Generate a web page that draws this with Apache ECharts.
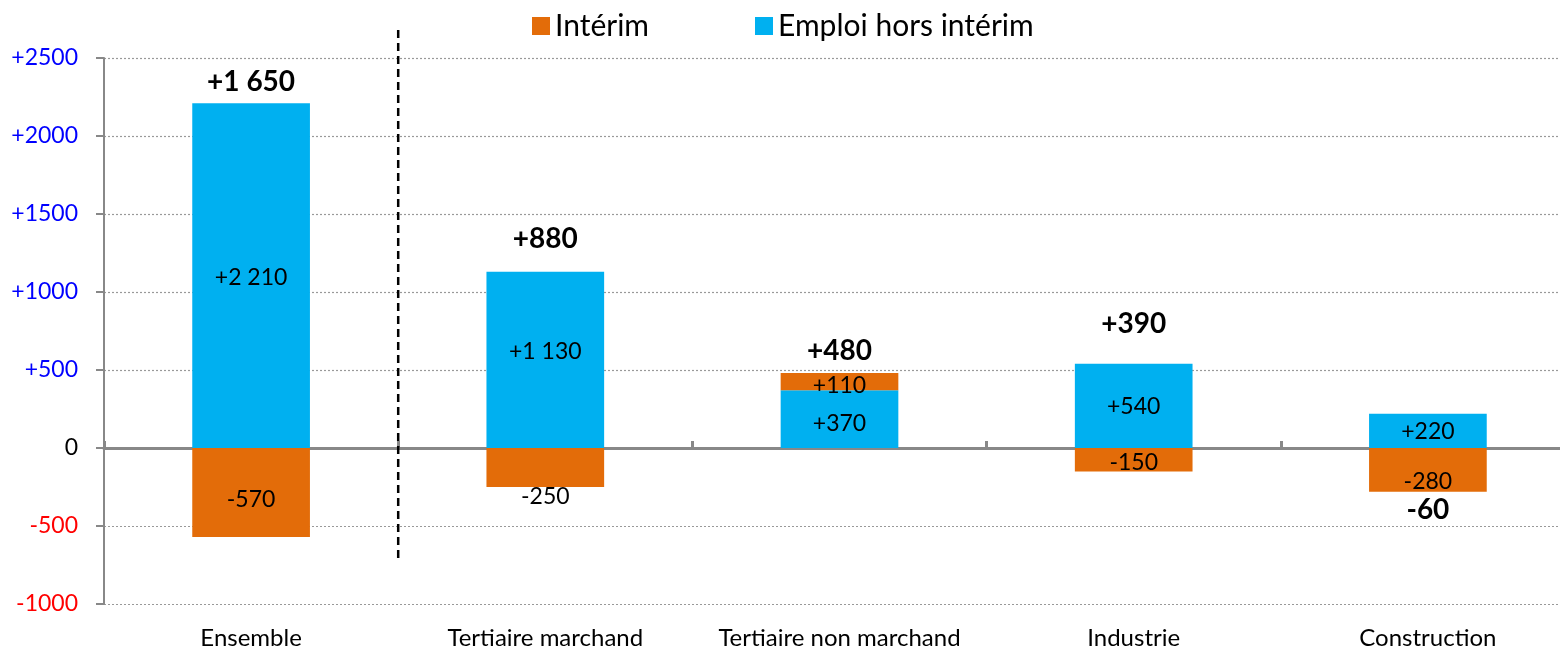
<!DOCTYPE html>
<html>
<head>
<meta charset="utf-8">
<script src="https://cdn.jsdelivr.net/npm/echarts@6/dist/echarts.min.js"></script>
<style>
  html, body { margin: 0; padding: 0; background: #fff; }
  #main { width: 1560px; height: 649px; }
</style>
</head>
<body>
<div id="main"></div>
<script>
var categories = ['Ensemble', 'Tertiaire marchand', 'Tertiaire non marchand', 'Industrie', 'Construction'];
var emploiHorsInterim = [2210, 1130, 370, 540, 220];   // barres bleues
var interim = [-570, -250, 110, -150, -280];           // barres orange
var totals = [1650, 880, 480, 390, -60];               // solde affiché en gras
var yMin = -1000, yMax = 2500, yStep = 500;

// petits décalages des étiquettes (comme sur le graphique Excel)
var totalLift = [-21, -33, -22, -40, 18];
var blueShift = [2, -8, 4, 1, 1];
var orangeShift = [7, 29, 4, 3, 12];

var FONT = 'Lato';
var myChart = echarts.init(document.getElementById('main'));

function signed(v) {
    var s = Math.abs(v).toString().replace(/\B(?=(\d{3})+(?!\d))/g, ' ');
    return (v > 0 ? '+' : v < 0 ? '-' : '') + s;
}

// point d'ancrage du total : haut de la pile positive ou bas de la pile négative
var totalAnchor = totals.map(function (t, i) {
    if (t >= 0) return Math.max(emploiHorsInterim[i], 0) + Math.max(interim[i], 0);
    return Math.min(emploiHorsInterim[i], 0) + Math.min(interim[i], 0);
});

var option = {
    backgroundColor: '#fff',
    textStyle: { fontFamily: FONT },
    legend: {
        data: ['Intérim', 'Emploi hors intérim'],
        top: 6,
        left: 527,
        icon: 'rect',
        itemWidth: 18,
        itemHeight: 18,
        itemGap: 106,
        textStyle: { fontSize: 30, color: '#000', fontFamily: FONT }
    },
    // la zone de tracé déborde à droite de l'image, comme dans l'original
    grid: { left: 104, right: -15, top: 58, bottom: 45, outerBoundsMode: 'none', containLabel: false },
    xAxis: [{
        type: 'category',
        data: categories,
        position: 'bottom',
        axisLine: { show: false, onZero: false },
        axisTick: { show: false },
        axisLabel: { interval: 0, fontSize: 24, color: '#000', margin: 22, fontFamily: FONT }
    }, {
        type: 'category',
        data: categories,
        axisLine: { onZero: true, lineStyle: { color: '#888', width: 3 } },
        axisTick: { show: true, length: 7, lineStyle: { color: '#888', width: 3 } },
        axisLabel: { show: false }
    }],
    yAxis: {
        type: 'value',
        min: yMin,
        max: yMax,
        interval: yStep,
        axisLine: { show: true, lineStyle: { color: '#888', width: 2 } },
        axisTick: { show: true, length: 8, lineStyle: { color: '#888', width: 2 } },
        splitLine: { lineStyle: { color: '#999', width: 1.2, type: [2, 2] } },
        axisLabel: {
            margin: 26,
            fontSize: 23,
            fontFamily: FONT,
            formatter: function (v) {
                if (v > 0) return '{p|+' + v + '}';
                if (v < 0) return '{n|' + v + '}';
                return '{z|0}';
            },
            rich: {
                p: { color: '#0000FF', fontSize: 23, fontFamily: FONT },
                n: { color: '#FF0000', fontSize: 23, fontFamily: FONT },
                z: { color: '#000', fontSize: 23, fontFamily: FONT }
            }
        }
    },
    series: [{
        name: 'Emploi hors intérim',
        type: 'bar',
        stack: 'emploi',
        xAxisIndex: 0,
        barWidth: '40%',
        itemStyle: { color: '#00B0F0' },
        label: {
            show: true, position: 'inside', color: '#000', fontSize: 23, fontFamily: FONT,
            textBorderWidth: 0,
            formatter: function (p) { return signed(p.value); }
        },
        data: emploiHorsInterim.map(function (v, i) {
            return { value: v, label: { offset: [0, blueShift[i]] } };
        })
    }, {
        name: 'Intérim',
        type: 'bar',
        stack: 'emploi',
        xAxisIndex: 0,
        barWidth: '40%',
        itemStyle: { color: '#E36C09' },
        label: {
            show: true, position: 'inside', color: '#000', fontSize: 23, fontFamily: FONT,
            textBorderWidth: 0,
            formatter: function (p) { return signed(p.value); }
        },
        data: interim.map(function (v, i) {
            return { value: v, label: { offset: [0, orangeShift[i]] } };
        })
    }, {
        name: 'Total',
        type: 'scatter',
        xAxisIndex: 0,
        symbolSize: 0,
        silent: true,
        itemStyle: { opacity: 1 },
        label: {
            show: true, position: 'inside', color: '#000', fontSize: 28, fontWeight: 'bold', fontFamily: FONT,
            textBorderWidth: 0
        },
        data: totalAnchor.map(function (v, i) {
            return {
                value: v,
                label: { offset: [0, totalLift[i]], formatter: signed(totals[i]) }
            };
        })
    }]
};

myChart.setOption(option);

// trait vertical pointillé séparant "Ensemble" des secteurs
var c0 = myChart.convertToPixel({ xAxisIndex: 0 }, 0);
var c1 = myChart.convertToPixel({ xAxisIndex: 0 }, 1);
var xSep = (c0 + c1) / 2;
var yTop = myChart.convertToPixel({ yAxisIndex: 0 }, 2680);
var yBot = myChart.convertToPixel({ yAxisIndex: 0 }, -720);
myChart.setOption({
    graphic: [{
        type: 'line',
        shape: { x1: xSep, y1: yTop, x2: xSep, y2: yBot },
        style: { stroke: '#000', lineWidth: 2.5, lineDash: [8, 5] },
        z: 100
    }]
});
</script>
</body>
</html>
